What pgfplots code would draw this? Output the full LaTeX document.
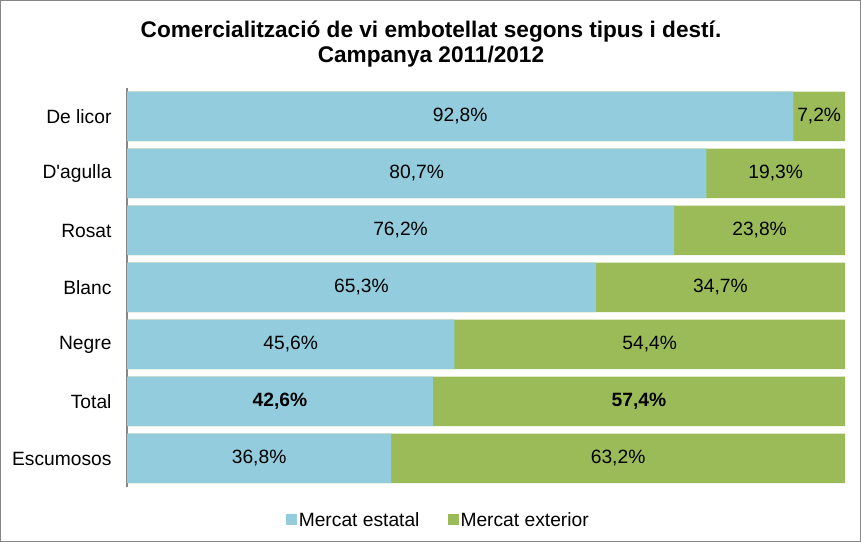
\documentclass[border=0pt]{standalone}
\usepackage{pgfplots}
\pgfplotsset{compat=1.18}
\usepackage{fontspec}
\setmainfont{Liberation Sans}
\definecolor{cblue}{HTML}{93CDDD}
\definecolor{cgreen}{HTML}{9BBB59}
\definecolor{cgray}{HTML}{868686}
\begin{document}
\begin{tikzpicture}[x=1bp,y=1bp]
\draw[cgray, line width=1bp] (0.5,0.5) rectangle (860.5,541.5);
\node[font=\fontsize{22.7}{25}\selectfont\bfseries, align=center] at (431,497.5) {Comercialització de vi embotellat segons tipus i destí.\\Campanya 2011/2012};
\begin{axis}[
  at={(127bp,55bp)}, anchor=south west,
  scale only axis, width=718bp, height=399bp,
  xmin=0, xmax=100, ymin=-0.5, ymax=6.5,
  axis x line=none,
  axis y line*=left,
  y axis line style={cgray, line width=1.2bp, -},
  ytick={0,1,2,3,4,5,6},
  yticklabels={Escumosos,Total,Negre,Blanc,Rosat,D\textquotesingle agulla,De licor},
  major tick length=0pt,
  yticklabel style={font=\fontsize{19.3}{22}\selectfont, xshift=-12bp},
  bar width=49.5bp,
  legend columns=2,
  legend style={at={(axis description cs:0.4335,-0.0827)}, anchor=center, draw=none, fill=none,
    font=\fontsize{19.3}{22}\selectfont, /tikz/every even column/.append style={column sep=26bp}},
  legend image code/.code={\fill[#1] (0bp,-5.5bp) rectangle (11bp,5.5bp);},
  clip=false,
]
% Mercat exterior (plotted as full bar: estatal + exterior = 100)
\addplot[xbar, bar shift=0pt, fill=cgreen, draw=none, forget plot] coordinates {
(100,0) (100,1) (100,2) (100,3) (100,4) (100,5) (100,6)};
% Mercat estatal
\addplot[xbar, bar shift=0pt, fill=cblue, draw=none] coordinates {
(36.8,0) (42.6,1) (45.6,2) (65.3,3) (76.2,4) (80.7,5) (92.8,6)};
\addlegendentry{Mercat estatal}
\addlegendimage{fill=cgreen, draw=none}
\addlegendentry{Mercat exterior}
% labels
\addplot[only marks, mark=none, point meta=explicit symbolic, nodes near coords,
  every node near coord/.style={anchor=center, font=\fontsize{19.3}{22}\selectfont}, forget plot] coordinates {
(18.4,0) [36,8\%]
(21.3,1) [\textbf{42,6\%}]
(22.8,2) [45,6\%]
(32.65,3) [65,3\%]
(38.1,4) [76,2\%]
(40.35,5) [80,7\%]
(46.4,6) [92,8\%]
(68.4,0) [63,2\%]
(71.3,1) [\textbf{57,4\%}]
(72.8,2) [54,4\%]
(82.65,3) [34,7\%]
(88.1,4) [23,8\%]
(90.35,5) [19,3\%]
(96.4,6) [7,2\%]
};
\end{axis}
\end{tikzpicture}
\end{document}
